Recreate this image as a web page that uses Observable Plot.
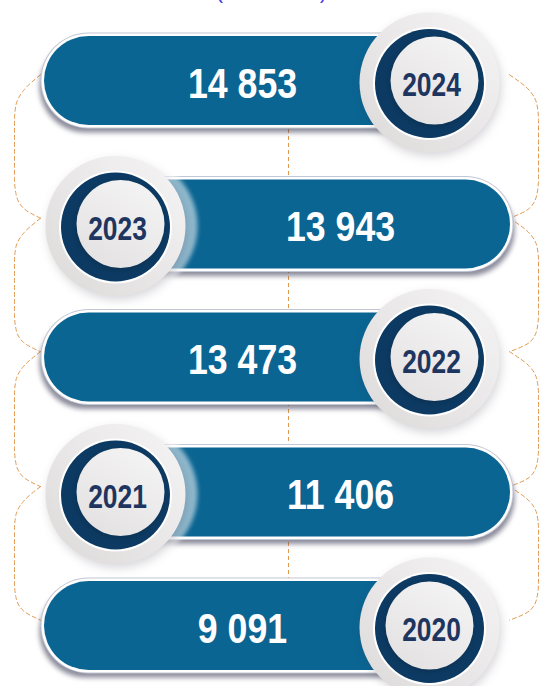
<!DOCTYPE html>
<html><head><meta charset="utf-8">
<script src="https://cdn.jsdelivr.net/npm/d3@7"></script>
<script src="https://cdn.jsdelivr.net/npm/@observablehq/plot@0.6"></script>
<style>html,body{margin:0;padding:0;background:#fff;overflow:hidden}#chart svg{display:block}</style>
</head><body><div id="chart"></div>
<script>
// ---- data ----
const years = ["2024", "2023", "2022", "2021", "2020"];
const values = [14853, 13943, 13473, 11406, 9091];
const unitLabel = ["(en tonnes)"];

// ---- font detection ----
function hasFont(name) {
  const c = document.createElement("canvas").getContext("2d");
  const s = "14 853 2024 mmmwww";
  c.font = "bold 40px monospace"; const a = c.measureText(s).width;
  c.font = `bold 40px '${name}', monospace`; const b = c.measureText(s).width;
  return Math.abs(a - b) > 0.5;
}
const narrow = hasFont("Liberation Sans Narrow");
const family = narrow ? "'Liberation Sans Narrow', 'Arial Narrow', sans-serif" : "'Liberation Sans', Arial, sans-serif";

const fmt = d3.formatLocale({thousands: " ", grouping: [3], decimal: ",", currency: ["", ""]}).format(",d");

// rows: even index -> pill on the left, circle on the right
const rows = years.map((year, i) => ({i, year, value: values[i], label: fmt(values[i]), pillLeft: i % 2 === 0}));

const pillX1 = d => d.pillLeft ? 88 : 116;
const pillX2 = d => d.pillLeft ? 428 : 465;
const circX = d => d.pillLeft ? 429 : 115;
const valX = d => d.pillLeft ? 242 : 340;

// dashed connectors (rounded C-shapes on both sides linking consecutive rows)
const conn = [];
for (let i = 0; i < years.length - 1; i++) {
  for (const s of ["L", "R"]) {
    const sg = s === "L" ? 1 : -1;
    const xin = s === "L" ? 40 : 509, xout = s === "L" ? 14 : 538;
    const k = s + i;
    conn.push({k, x: xin, y: i - 0.04});
    conn.push({k, x: xout + sg * 9, y: i + 0.07});
    conn.push({k, x: xout + sg * 1.5, y: i + 0.17});
    conn.push({k, x: xout, y: i + 0.28});
    conn.push({k, x: xout, y: i + 1 - 0.32});
    conn.push({k, x: xout + sg * 1.5, y: i + 1 - 0.21});
    conn.push({k, x: xout + sg * 9, y: i + 1 - 0.11});
    conn.push({k, x: xin, y: i + 1 - 0.04});
  }
}
const dashColor = "#e29a52";

const chart = Plot.plot({
  width: 542, height: 686, margin: 0,
  x: {type: "linear", domain: [0, 542], range: [0, 542], axis: null},
  y: {type: "linear", domain: [0, 1, 2, 3, 4], range: [80, 223.5, 356.5, 491.5, 625], axis: null},
  style: {fontFamily: family, background: "white"},
  marks: [
    // unit label, cut by the top edge as in the original
    Plot.text(unitLabel, {frameAnchor: "top", text: d => d, lineAnchor: "bottom", dy: -3, fill: "#4b3fe0", fontSize: 22, fontFamily: "'Liberation Sans', Arial, sans-serif"}),
    // dashed connectors
    Plot.ruleX([288], {y1: 0, y2: 4, stroke: dashColor, strokeWidth: 1, strokeDasharray: "4,3"}),
    Plot.line(conn, {x: "x", y: "y", z: "k", curve: "monotone-y", stroke: dashColor, strokeWidth: 1, strokeDasharray: "4,3"}),
    // pill shadows
    Plot.link(rows, {x1: d => pillX1(d) + (d.pillLeft ? -3 : 3), x2: d => pillX2(d) + (d.pillLeft ? -3 : 3), y1: "i", y2: "i", dy: 6,
      stroke: "#3e3d58", strokeOpacity: 0.6, strokeWidth: 92, strokeLinecap: "round", imageFilter: "blur(2.5px)"}),
    // pill outline, white rim, blue body
    Plot.link(rows, {x1: pillX1, x2: pillX2, y1: "i", y2: "i", stroke: "#c3c6d3", strokeWidth: 96, strokeLinecap: "round"}),
    Plot.link(rows, {x1: pillX1, x2: pillX2, y1: "i", y2: "i", stroke: "#ffffff", strokeWidth: 94, strokeLinecap: "round"}),
    Plot.link(rows, {x1: pillX1, x2: pillX2, y1: "i", y2: "i", stroke: "#0b6592", strokeWidth: 89, strokeLinecap: "round"}),
    // values
    Plot.text(rows, {x: valX, y: "i", text: "label", dy: 4, fontSize: 42, fontWeight: "bold", fill: "white"}),
    // halo of left circles on the blue pill
    Plot.dot(rows.filter(d => !d.pillLeft), {x: d => circX(d) + 12, y: "i", dy: 2, r: 70, fill: "white", fillOpacity: 0.55, imageFilter: "blur(2px)"}),
    // outer grey disc
    Plot.dot(rows, {x: circX, y: "i", dy: 2, r: 70, fill: "url(#gOuter)", imageFilter: "drop-shadow(2px 4px 5px rgba(40,40,60,0.18))"}),
    // white rim, dark ring
    Plot.dot(rows, {x: circX, y: "i", dy: 3, r: 56.5, fill: "#ffffff"}),
    Plot.dot(rows, {x: circX, y: "i", dy: 3, r: 54.5, fill: "#0d3a62"}),
    // inner light disc
    Plot.dot(rows, {x: d => circX(d) + (d.i === years.length - 1 ? 0 : 5), y: "i", r: 44, fill: "url(#gInner)",
      imageFilter: "drop-shadow(-1px 2px 2px rgba(0,0,0,0.15))"}),
    // years
    Plot.text(rows, {x: d => circX(d) + 2, y: "i", text: "year", dy: 5, fontSize: 33, fontWeight: "bold", fill: "#1e3560"})
  ]
});

const svg = d3.select(chart);
const defs = svg.insert("defs", ":first-child");
const g1 = defs.append("linearGradient").attr("id", "gOuter").attr("x1", 1).attr("y1", 0).attr("x2", 0).attr("y2", 1);
g1.append("stop").attr("offset", 0).attr("stop-color", "#f6f5f5");
g1.append("stop").attr("offset", 1).attr("stop-color", "#dcd9d9");
const g2 = defs.append("linearGradient").attr("id", "gInner").attr("x1", 0.8).attr("y1", 0).attr("x2", 0.2).attr("y2", 1);
g2.append("stop").attr("offset", 0).attr("stop-color", "#f5f4f4");
g2.append("stop").attr("offset", 1).attr("stop-color", "#e3e1e2");
document.getElementById("chart").appendChild(chart);

// condense digits like the original narrow face
const yearSet = new Set(years), valSet = new Set(rows.map(d => d.label));
svg.selectAll("text").each(function() {
  const t = this.textContent;
  let f = null;
  if (valSet.has(t)) f = narrow ? 1.02 : 0.85;
  else if (yearSet.has(t)) f = narrow ? 0.98 : 0.80;
  if (f) {
    const w = this.getComputedTextLength();
    this.setAttribute("textLength", (w * f).toFixed(1));
    this.setAttribute("lengthAdjust", "spacingAndGlyphs");
  }
});
</script>
</body></html>
